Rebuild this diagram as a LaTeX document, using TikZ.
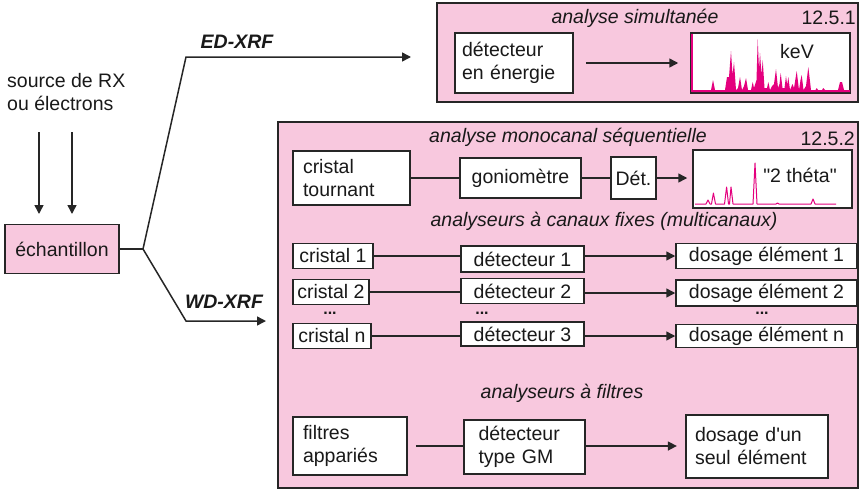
\documentclass[tikz,border=0pt]{standalone}
\usepackage{fontspec}
\setmainfont{Liberation Sans}
\usetikzlibrary{arrows.meta}
\definecolor{pinkbg}{RGB}{248,200,222}
\definecolor{mag}{RGB}{228,0,126}
\begin{document}
\begin{tikzpicture}[x=1pt,y=-1pt,
  every node/.style={font=\fontsize{19.5}{23}\selectfont, inner sep=0pt, text=black!90},
  frame/.style={draw=black!85, line width=1.8pt, fill=pinkbg},
  wbox/.style={draw=black!85, line width=1.5pt, fill=white},
  pbox/.style={draw=black!85, line width=1.5pt, fill=pinkbg},
  ttl/.style={font=\fontsize{19.5}{23}\selectfont\itshape},
  lbl/.style={font=\fontsize{19.5}{23}\selectfont\bfseries\itshape},
  dots/.style={font=\fontsize{16}{16}\selectfont\bfseries},
  conn/.style={draw=black!85, line width=1.5pt},
  arr/.style={conn, -{Triangle[length=9pt,width=9pt]}}]
\useasboundingbox (0,0) rectangle (861,493);

% frames
\node[frame, minimum width=421pt, minimum height=99pt] (top) at (647.5,52.5) {};
\node[frame, minimum width=580pt, minimum height=366pt] (big) at (568,305) {};

% titles
\node[ttl] (t1) at (635,18) {analyse simultanée};
\node[anchor=east] (n1) at (856,18) {12.5.1};
\node[ttl] (t2) at (568,137) {analyse monocanal séquentielle};
\node[anchor=east] (n2) at (855,139) {12.5.2};
\node[ttl] (t3) at (604,221) {analyseurs à canaux fixes (multicanaux)};
\node[ttl] (t4) at (562,393) {analyseurs à filtres};

% left part
\node[align=left, anchor=west] (src) at (7,92) {source de RX\\ou électrons};
\node[pbox, minimum width=114pt, minimum height=49pt] (ech) at (62,249) {échantillon};
\coordinate (a1s) at (39,132); \coordinate (a1e) at (39,214);
\coordinate (a2s) at (72,132); \coordinate (a2e) at (72,214);
\draw[arr] (a1s) -- (a1e);
\draw[arr] (a2s) -- (a2e);
\coordinate (split) at (143,249);
\coordinate (edc) at (186,57);
\coordinate (ede) at (411,57);
\coordinate (wdc) at (186,321);
\coordinate (wde) at (266,321);
\draw[conn] (ech.east) -- (split);
\draw[arr, line join=miter] (split) -- (edc) -- (ede);
\draw[arr, line join=miter] (split) -- (wdc) -- (wde);
\node[lbl] (ed) at (237,42) {ED-XRF};
\node[lbl] (wd) at (224,302) {WD-XRF};

% ED
\node[wbox, minimum width=118pt, minimum height=60pt, align=left, text width=104pt] (dete) at (514,63) {détecteur\\en énergie};
\node[wbox, minimum width=159pt, minimum height=60pt] (spe) at (770.5,63) {};
\draw[arr, shorten <=12pt, shorten >=12pt] (dete.east) -- (spe.west);
\fill[mag] (692,91) -- (692,90) -- (711,90) -- (713,80) -- (715,90) -- (725,90) -- (727,77) -- (729,77) -- (731,51) -- (732.5,75) -- (734,62) -- (736,90) -- (738,88) -- (740,77) -- (742,90) -- (744,86) -- (746,78) -- (748,90) -- (751,90) -- (752.7,82) -- (754,88) -- (756.5,80) -- (757.7,39) -- (759,70) -- (760,53) -- (761.5,75) -- (762.7,60) -- (764.5,88) -- (767,88) -- (768.3,82) -- (770,90) -- (772,86) -- (774,84) -- (776,69) -- (778,88) -- (779.5,84) -- (780.7,73) -- (782.5,88) -- (784.5,88) -- (786,76) -- (787.2,85) -- (788.3,77) -- (790,90) -- (792.5,84) -- (794,88) -- (796.7,71) -- (799,90) -- (800.5,80) -- (801.7,75) -- (803.5,90) -- (806,86) -- (808.3,67) -- (811,90) -- (815.5,90) -- (816.7,88) -- (818,90) -- (822,90) -- (823.3,88) -- (825,90) -- (838,90) -- (840,82) -- (842,82) -- (844,90) -- (850,90) -- (850,92) -- (692,92) -- cycle;
\draw[mag, line width=1.5pt] (692,34) -- (692,92);
\node (kev) at (797,52) {keV};

% monocanal
\node[wbox, minimum width=117pt, minimum height=54pt, align=left, text width=97pt] (crt) at (351.5,178) {cristal\\tournant};
\node[wbox, minimum width=121pt, minimum height=40pt] (gon) at (520.5,178) {goniomètre};
\node[wbox, minimum width=45pt, minimum height=42pt] (det) at (633.5,178) {Dét.};
\node[wbox, minimum width=159pt, minimum height=58pt] (sp2) at (772.5,179) {};
\draw[conn] (crt.east) -- (gon.west);
\draw[conn] (gon.east) -- (det.west);
\draw[arr, shorten >=5pt] (det.east) -- (det.east -| sp2.west);
\draw[mag, line width=1pt, line join=round] (695,204) -- (706,204) -- (708,200) -- (710,204) -- (711.5,204) -- (713.4,193) -- (715.5,204) -- (724.5,204) -- (726.6,187) -- (728.5,204) -- (729.5,204) -- (731,187) -- (733,204) -- (753,204) -- (755,163) -- (757,204) -- (776,204) -- (777.5,203) -- (779,204) -- (811,204) -- (813,199) -- (815,204) -- (836,204);
\node (theta) at (800,175) {\textquotedbl 2 théta\textquotedbl};

% multicanal
\node[wbox, minimum width=80pt, minimum height=25pt] (c1) at (333,256) {cristal 1};
\node[wbox, minimum width=76pt, minimum height=25pt] (c2) at (331,292) {cristal 2};
\node[wbox, minimum width=78pt, minimum height=25pt] (c3) at (332,336) {cristal n};
\node[wbox, minimum width=123pt, minimum height=26pt] (d1) at (522.5,259) {détecteur 1};
\node[wbox, minimum width=123pt, minimum height=25pt] (d2) at (522.5,291) {détecteur 2};
\node[wbox, minimum width=123pt, minimum height=24pt] (d3) at (522.5,334) {détecteur 3};
\node[wbox, minimum width=181pt, minimum height=25pt] (o1) at (766.5,256) {dosage élément 1};
\node[wbox, minimum width=181pt, minimum height=26pt] (o2) at (766.5,293) {dosage élément 2};
\node[wbox, minimum width=181pt, minimum height=23pt] (o3) at (766.5,336) {dosage élément n};
\node[dots] (p1) at (330,313) {...};
\node[dots] (p2) at (482,313) {...};
\node[dots] (p3) at (762,313) {...};
\draw[conn] (c1.east) -- (c1.east -| d1.west);
\draw[conn] (c2.east) -- (c2.east -| d2.west);
\draw[conn] (c3.east) -- (c3.east -| d3.west);
\draw[arr] (d1.east |- o1.west) -- (o1.west);
\draw[arr] (d2.east |- o2.west) -- (o2.west);
\draw[arr] (d3.east |- o3.west) -- (o3.west);

% filtres
\node[wbox, minimum width=114pt, minimum height=58pt, align=left, text width=94pt] (fa) at (350,446) {filtres\\appariés};
\node[wbox, minimum width=121pt, minimum height=54pt, align=left, text width=92pt] (gm) at (524.5,447) {détecteur\\type GM};
\node[wbox, line width=2.3pt, minimum width=142pt, minimum height=63pt, align=left, text width=124pt] (ds) at (757,446.5) {dosage d\textquotesingle un\\seul élément};
\draw[conn, shorten <=8pt] (fa.east) -- (fa.east -| gm.west);
\draw[arr, shorten >=8pt] (gm.east |- fa.east) -- (fa.east -| ds.west);
\end{tikzpicture}
\end{document}
